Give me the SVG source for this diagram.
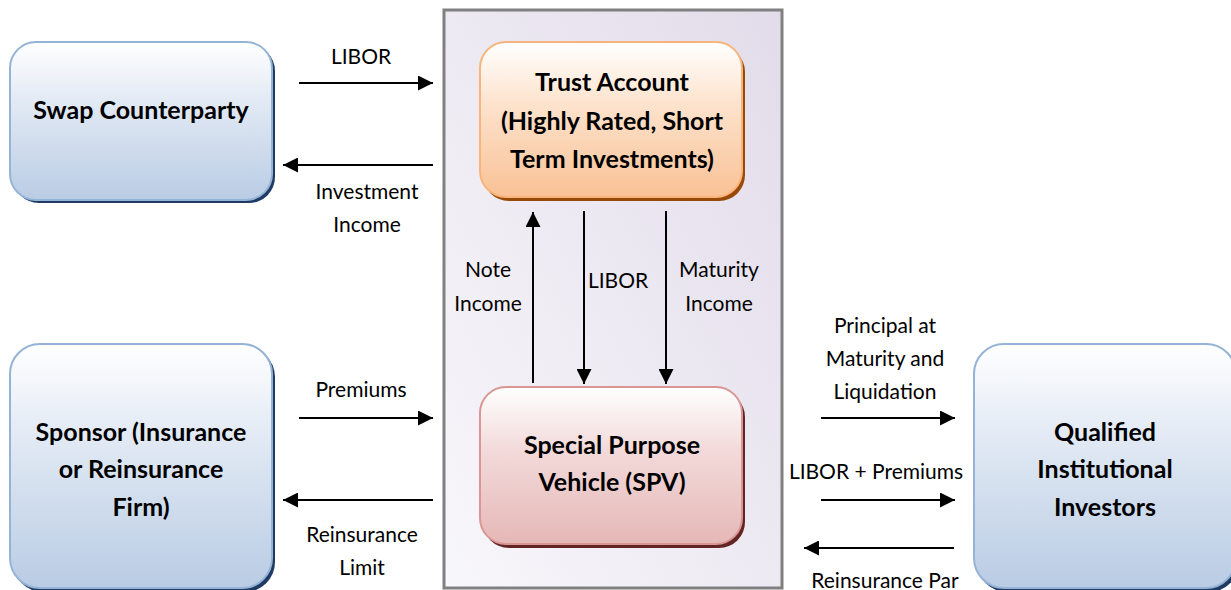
<svg xmlns="http://www.w3.org/2000/svg" width="1231" height="590" viewBox="0 0 1231 590">
<defs>
<linearGradient id="gBlue" x1="0" y1="0" x2="0" y2="1"><stop offset="0" stop-color="#ffffff"/><stop offset="0.35" stop-color="#e4ebf5"/><stop offset="1" stop-color="#b9cce4"/></linearGradient>
<linearGradient id="gOrange" x1="0" y1="0" x2="0" y2="1"><stop offset="0" stop-color="#ffffff"/><stop offset="0.4" stop-color="#fde3cd"/><stop offset="1" stop-color="#f9c195"/></linearGradient>
<linearGradient id="gRed" x1="0" y1="0" x2="0" y2="1"><stop offset="0" stop-color="#ffffff"/><stop offset="0.4" stop-color="#f3dada"/><stop offset="1" stop-color="#e5b8b7"/></linearGradient>
<linearGradient id="gBox" x1="0" y1="1" x2="1" y2="0"><stop offset="0" stop-color="#f8f7fb"/><stop offset="1" stop-color="#e2dcea"/></linearGradient>
<marker id="ah" viewBox="0 0 10 10" refX="10" refY="5" markerWidth="15" markerHeight="15" markerUnits="userSpaceOnUse" orient="auto"><path d="M0,0 L10,5 L0,10 z" fill="#000"/></marker>
</defs>
<style>
.lbl{font-family:Lato,"Liberation Sans",sans-serif;font-size:21px;fill:#000;text-anchor:middle}
.nt{font-family:Lato,"Liberation Sans",sans-serif;font-size:25px;font-weight:bold;fill:#000;text-anchor:middle}
.cn{stroke:#000;stroke-width:2;fill:none;marker-end:url(#ah)}
.blue{fill:url(#gBlue);stroke:#95b3d7;stroke-width:2}
.bsh{fill:#1f3b63}
</style>
<rect width="1231" height="590" fill="#fff"/>
<g id="container">
<rect x="444" y="10" width="338" height="578" fill="url(#gBox)" stroke="#808080" stroke-width="3"/>
</g>
<g id="swap">
<rect x="13" y="45" width="262" height="158" rx="26" class="bsh"/>
<rect x="10" y="42" width="262" height="158" rx="26" class="blue"/>
<text x="141" y="119" class="nt">Swap Counterparty</text>
</g>
<g id="sponsor">
<rect x="13" y="347" width="262" height="245" rx="30" class="bsh"/>
<rect x="10" y="344" width="262" height="244" rx="30" class="blue"/>
<text class="nt"><tspan x="141" y="441">Sponsor (Insurance</tspan><tspan x="141" y="478">or Reinsurance</tspan><tspan x="141" y="516">Firm)</tspan></text>
</g>
<g id="investors">
<rect x="977" y="347" width="262" height="245" rx="30" class="bsh"/>
<rect x="974" y="344" width="262" height="244" rx="30" class="blue"/>
<text class="nt"><tspan x="1105" y="441">Qualified</tspan><tspan x="1105" y="478">Institutional</tspan><tspan x="1105" y="516">Investors</tspan></text>
</g>
<g id="trust">
<rect x="483" y="46" width="262" height="155" rx="26" fill="#984807"/>
<rect x="480" y="42" width="262" height="155" rx="26" fill="url(#gOrange)" stroke="#f8b47a" stroke-width="2"/>
<text class="nt"><tspan x="612" y="91">Trust Account</tspan><tspan x="612" y="130">(Highly Rated, Short</tspan><tspan x="612" y="168">Term Investments)</tspan></text>
</g>
<g id="spv">
<rect x="483" y="391" width="262" height="157" rx="26" fill="#632523"/>
<rect x="480" y="387" width="262" height="157" rx="26" fill="url(#gRed)" stroke="#d99694" stroke-width="2"/>
<text class="nt"><tspan x="612" y="454">Special Purpose</tspan><tspan x="612" y="491">Vehicle (SPV)</tspan></text>
</g>
<g id="connectors">
<line x1="299" y1="83" x2="433" y2="83" class="cn"/>
<line x1="433" y1="165" x2="283" y2="165" class="cn"/>
<line x1="299" y1="418" x2="433" y2="418" class="cn"/>
<line x1="433" y1="500" x2="283" y2="500" class="cn"/>
<line x1="533" y1="383" x2="533" y2="212" class="cn"/>
<line x1="584" y1="211" x2="584" y2="384" class="cn"/>
<line x1="666" y1="211" x2="666" y2="384" class="cn"/>
<line x1="821" y1="418" x2="955" y2="418" class="cn"/>
<line x1="821" y1="500" x2="955" y2="500" class="cn"/>
<line x1="954" y1="548" x2="804" y2="548" class="cn"/>
</g>
<g id="labels">
<text x="361" y="64" class="lbl">LIBOR</text>
<text class="lbl"><tspan x="367" y="199">Investment</tspan><tspan x="367" y="232">Income</tspan></text>
<text x="361" y="397" class="lbl">Premiums</text>
<text class="lbl"><tspan x="362" y="542">Reinsurance</tspan><tspan x="362" y="575">Limit</tspan></text>
<text class="lbl"><tspan x="488" y="277">Note</tspan><tspan x="488" y="311">Income</tspan></text>
<text x="618" y="288" class="lbl">LIBOR</text>
<text class="lbl"><tspan x="719" y="277">Maturity</tspan><tspan x="719" y="311">Income</tspan></text>
<text class="lbl"><tspan x="885" y="333">Principal at</tspan><tspan x="885" y="366">Maturity and</tspan><tspan x="885" y="399">Liquidation</tspan></text>
<text x="876" y="479" class="lbl">LIBOR + Premiums</text>
<text x="885" y="588" class="lbl">Reinsurance Par</text>
</g>
</svg>
